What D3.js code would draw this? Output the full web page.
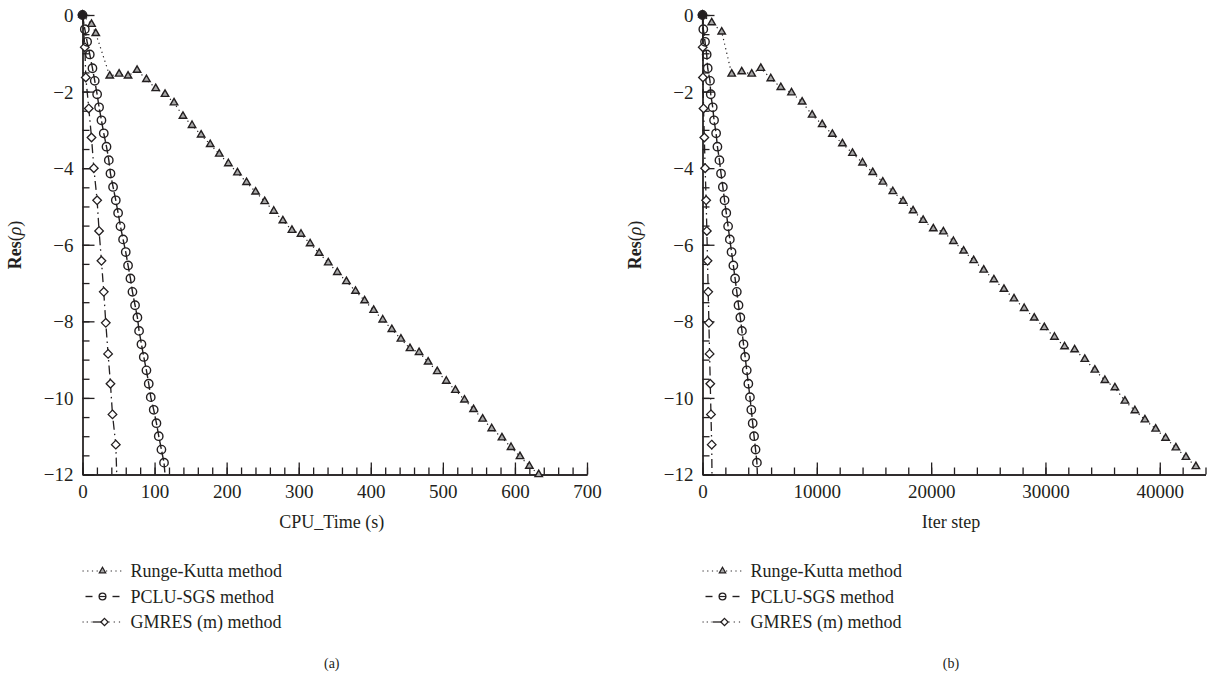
<!DOCTYPE html>
<meta charset="utf-8">
<style>
body { margin: 0; background: #fff; }
svg { font-family: "Liberation Serif", "Times New Roman", serif; fill: #231f20; }
.axis path, .axis line { stroke: #231f20; stroke-width: 1.3; }
.axis text { font-size: 19px; fill: #231f20; font-family: "Liberation Serif", serif; }
</style>
<body>
<script src="https://cdn.jsdelivr.net/npm/d3@7"></script>
<script>
// ---- data ----
// (a) CPU time in seconds
var rkA_x = [0, 12.5, 18.4, 37.8, 50.8, 63.2, 75.7, 88.7, 101.6, 114.5, 127, 139.4, 152, 164.6, 177.2, 189.8, 202.4, 215, 227.6, 240.2, 252.8, 265.4, 278, 290.6, 303.2, 315.8, 328.4, 341, 353.6, 366.2, 378.8, 391.4, 404, 416.6, 429.2, 441.8, 454.4, 467, 479.6, 492.2, 504.8, 517.4, 530, 542.6, 555.2, 567.8, 582, 594.6, 607, 620, 633];
var rkA_y = [0, -0.24, -0.48, -1.59, -1.54, -1.59, -1.44, -1.68, -1.92, -2.07, -2.29, -2.64, -2.88, -3.13, -3.38, -3.63, -3.88, -4.12, -4.37, -4.62, -4.87, -5.12, -5.37, -5.62, -5.72, -5.97, -6.22, -6.47, -6.72, -6.96, -7.21, -7.46, -7.71, -7.96, -8.21, -8.46, -8.71, -8.81, -9.06, -9.31, -9.56, -9.80, -10.05, -10.30, -10.55, -10.80, -11.04, -11.29, -11.53, -11.78, -12.0];

var pcluA_x = [0, 3.2, 6.4, 10.1, 13.8, 17.0, 20.3, 23.0, 26.3, 29.5, 33.3, 36.5, 38.8, 42.4, 46.2, 49.4, 52.7, 56.3, 60.0, 63.2, 66.5, 69.3, 72.9, 76.2, 78.5, 81.8, 85.0, 88.7, 91.9, 94.7, 98.8, 102.6, 105.8, 109.5, 113.1];
var pcluA_y = [0, -0.37, -0.70, -1.03, -1.39, -1.72, -2.07, -2.41, -2.75, -3.09, -3.44, -3.79, -4.14, -4.49, -4.84, -5.17, -5.52, -5.86, -6.19, -6.54, -6.88, -7.23, -7.58, -7.90, -8.25, -8.60, -8.93, -9.28, -9.63, -9.98, -10.31, -10.66, -11.00, -11.35, -11.69];
var pcluA_end = [114.5, -12];

var gmA_x = [0, 3.2, 4.6, 8.7, 12.5, 15.7, 20.3, 23.0, 26.3, 29.5, 32.3, 35.5, 38.8, 41.6, 46.2];
var gmA_y = [0, -0.84, -1.63, -2.44, -3.20, -4.00, -4.84, -5.64, -6.42, -7.23, -8.04, -8.85, -9.63, -10.43, -11.22];
var gmA_end = [47.5, -12];

// (b) iteration steps
var rkB_x = [0, 805, 1680, 2555, 3430, 4305, 5100, 5975, 6850, 7785, 8715, 9590, 10470, 11360, 12240, 13120, 14000, 14890, 15770, 16650, 17540, 18420, 19300, 20190, 21070, 21950, 22840, 23720, 24600, 25490, 26370, 27250, 28140, 29020, 29900, 30790, 31670, 32550, 33440, 34320, 35200, 36075, 36950, 37825, 38700, 39640, 40510, 41410, 42290, 43160];
var rkB_y = [0, -0.20, -0.44, -1.54, -1.48, -1.54, -1.39, -1.66, -1.89, -2.03, -2.27, -2.61, -2.86, -3.11, -3.36, -3.61, -3.86, -4.11, -4.36, -4.61, -4.86, -5.11, -5.36, -5.58, -5.66, -5.91, -6.16, -6.41, -6.66, -6.91, -7.16, -7.41, -7.66, -7.91, -8.16, -8.41, -8.66, -8.74, -8.99, -9.27, -9.54, -9.73, -10.08, -10.33, -10.57, -10.81, -11.05, -11.30, -11.55, -11.79];

var pcluB_x = [0, 70, 220, 365, 455, 655, 720, 895, 1010, 1190, 1305, 1480, 1620, 1780, 1930, 2080, 2240, 2390, 2540, 2700, 2850, 3000, 3150, 3310, 3450, 3590, 3730, 3870, 4010, 4150, 4270, 4390, 4510, 4640, 4760];
var pcluB_y = pcluA_y.slice();
var pcluB_end = [4800, -12];

var gmB_x = [0, 20, 40, 90, 160, 230, 320, 380, 440, 500, 560, 620, 680, 740, 805];
var gmB_y = gmA_y.slice();
var gmB_end = [830, -12];

var xTicksA = [0, 100, 200, 300, 400, 500, 600, 700];
var xTicksB = [0, 10000, 20000, 30000, 40000];
var yTicks = [0, -2, -4, -6, -8, -10, -12];
var legendNames = ["Runge-Kutta method", "PCLU-SGS method", "GMRES (m) method"];

// ---- layout ----
var W = 1209, H = 679;
var svg = d3.select("body").append("svg").attr("width", W).attr("height", H);

var panels = [
  { left: 82.5, right: 587, xmax: 700, xTicks: xTicksA, minorStep: 20, xLabel: "CPU_Time (s)", tag: "(a)",
    rk: [rkA_x, rkA_y], pclu: [pcluA_x, pcluA_y, pcluA_end], gm: [gmA_x, gmA_y, gmA_end] },
  { left: 702.5, right: 1205.5, xmax: 44000, xTicks: xTicksB, minorStep: 2000, xLabel: "Iter step", tag: "(b)",
    rk: [rkB_x, rkB_y], pclu: [pcluB_x, pcluB_y, pcluB_end], gm: [gmB_x, gmB_y, gmB_end] }
];

var plotTop = 15, plotBottom = 474.5;
var y = d3.scaleLinear().domain([0, -12]).range([plotTop, plotBottom]);

function zip(xs, ys) { return xs.map(function(v, i) { return [v, ys[i]]; }); }

var triangle = d3.symbol().type(d3.symbolTriangle).size(24);
function diamondPath(r) { return "M0," + (-r) + "L" + r + ",0L0," + r + "L" + (-r) + ",0Z"; }

panels.forEach(function(p) {
  var x = d3.scaleLinear().domain([0, p.xmax]).range([p.left, p.right]);
  var g = svg.append("g");

  // minor ticks
  g.append("g").attr("class", "axis")
      .attr("transform", "translate(0," + plotBottom + ")")
      .call(d3.axisBottom(x).tickValues(d3.range(0, p.xmax + 1, p.minorStep)).tickSize(-7).tickSizeOuter(0).tickFormat(""));
  g.append("g").attr("class", "axis")
      .attr("transform", "translate(" + p.left + ",0)")
      .call(d3.axisLeft(y).tickValues(d3.range(0, -12.01, -0.5)).tickSize(-7).tickSizeOuter(0).tickFormat(""));

  // major ticks
  g.append("g").attr("class", "axis")
      .attr("transform", "translate(0," + plotBottom + ")")
      .call(d3.axisBottom(x).tickValues(p.xTicks).tickSize(-12).tickSizeOuter(0).tickPadding(10).tickFormat(d3.format("d")));
  g.append("g").attr("class", "axis")
      .attr("transform", "translate(" + p.left + ",0)")
      .call(d3.axisLeft(y).tickValues(yTicks).tickSize(-12).tickSizeOuter(0).tickPadding(9).tickFormat(d3.format("d")))
    .selectAll("text").attr("dy", "0.34em");

  var line = d3.line().x(function(d) { return x(d[0]); }).y(function(d) { return y(d[1]); });

  var rk = zip(p.rk[0], p.rk[1]);
  var pc = zip(p.pclu[0], p.pclu[1]);
  var gm = zip(p.gm[0], p.gm[1]);

  g.append("path").datum(rk).attr("d", line)
      .attr("fill", "none").attr("stroke", "#231f20").attr("stroke-width", 1.2).attr("stroke-dasharray", "1.2,3.5");
  g.append("path").datum(pc.concat([p.pclu[2]])).attr("d", line)
      .attr("fill", "none").attr("stroke", "#231f20").attr("stroke-width", 1.4).attr("stroke-dasharray", "9,3");
  g.append("path").datum(gm.concat([p.gm[2]])).attr("d", line)
      .attr("fill", "none").attr("stroke", "#231f20").attr("stroke-width", 1.3).attr("stroke-dasharray", "9,4,1.5,4");

  g.selectAll(".dia").data(gm).enter().append("path")
      .attr("d", diamondPath(4.3))
      .attr("transform", function(d) { return "translate(" + x(d[0]) + "," + y(d[1]) + ")"; })
      .attr("fill", "#fff").attr("stroke", "#231f20").attr("stroke-width", 1.3);
  g.selectAll(".circ").data(pc).enter().append("circle")
      .attr("cx", function(d) { return x(d[0]); })
      .attr("cy", function(d) { return y(d[1]); })
      .attr("r", 4.2)
      .attr("fill", "none").attr("stroke", "#231f20").attr("stroke-width", 1.4);
  g.selectAll(".tri").data(rk).enter().append("path")
      .attr("d", triangle)
      .attr("transform", function(d) { return "translate(" + x(d[0]) + "," + y(d[1]) + ")"; })
      .attr("fill", "#a8a8a8").attr("stroke", "#231f20").attr("stroke-width", 1.4);
  // dark blob where all three series start
  g.append("circle").attr("cx", x(0)).attr("cy", y(0)).attr("r", 3.6).attr("fill", "#231f20");

  // axis titles
  g.append("text").attr("x", (p.left + p.right) / 2 - 3).attr("y", 528)
      .attr("text-anchor", "middle").style("font-size", "18px").text(p.xLabel);
  var yl = g.append("text")
      .attr("transform", "translate(" + (p.left - 62) + "," + 245 + ") rotate(-90)")
      .attr("text-anchor", "middle").style("font-size", "18px");
  yl.append("tspan").style("font-weight", "bold").text("Res");
  yl.append("tspan").text("(");
  yl.append("tspan").style("font-style", "italic").text("\u03c1");
  yl.append("tspan").text(")");

  // legend
  var lg = g.append("g").attr("transform", "translate(" + p.left + ",571)");
  var styles = [
    { dash: "1.2,3.5", mark: "tri" },
    { dash: "7,6", mark: "circ" },
    { dash: "1.2,3", mark: "dia" }
  ];
  legendNames.forEach(function(name, i) {
    var row = lg.append("g").attr("transform", "translate(0," + (i * 25.5) + ")");
    var s = styles[i];
    if (s.mark === "dia") {
      row.append("line").attr("x1", 0).attr("x2", 9).attr("stroke", "#231f20").attr("stroke-dasharray", "1.2,3");
      row.append("line").attr("x1", 10).attr("x2", 20).attr("stroke", "#231f20").attr("stroke-width", 1.3);
      row.append("line").attr("x1", 26).attr("x2", 40).attr("stroke", "#231f20").attr("stroke-dasharray", "1.2,4");
    } else if (s.mark === "circ") {
      row.append("line").attr("x1", 3).attr("x2", 10).attr("stroke", "#231f20").attr("stroke-width", 1.4);
      row.append("line").attr("x1", 30).attr("x2", 37).attr("stroke", "#231f20").attr("stroke-width", 1.4);
    } else {
      row.append("line").attr("x1", 0).attr("x2", 40).attr("stroke", "#231f20").attr("stroke-dasharray", s.dash);
    }
    if (s.mark === "tri") {
      row.append("path").attr("d", d3.symbol().type(d3.symbolTriangle).size(18)).attr("transform", "translate(20,0)")
        .attr("fill", "#a8a8a8").attr("stroke", "#231f20").attr("stroke-width", 1.2);
    } else if (s.mark === "circ") {
      row.append("circle").attr("cx", 20).attr("r", 3.4).attr("fill", "#fff").attr("stroke", "#231f20").attr("stroke-width", 1.3);
      row.append("line").attr("x1", 16.6).attr("x2", 23.4).attr("stroke", "#231f20").attr("stroke-width", 1.2);
    } else {
      row.append("path").attr("d", diamondPath(3.6)).attr("transform", "translate(22,0)")
        .attr("fill", "#fff").attr("stroke", "#231f20").attr("stroke-width", 1.3);
    }
    row.append("text").attr("x", 48).attr("dy", "0.35em").style("font-size", "18px").text(name);
  });

  g.append("text").attr("x", (p.left + p.right) / 2 - 3).attr("y", 668)
      .attr("text-anchor", "middle").style("font-size", "14px").text(p.tag);
});
</script>
